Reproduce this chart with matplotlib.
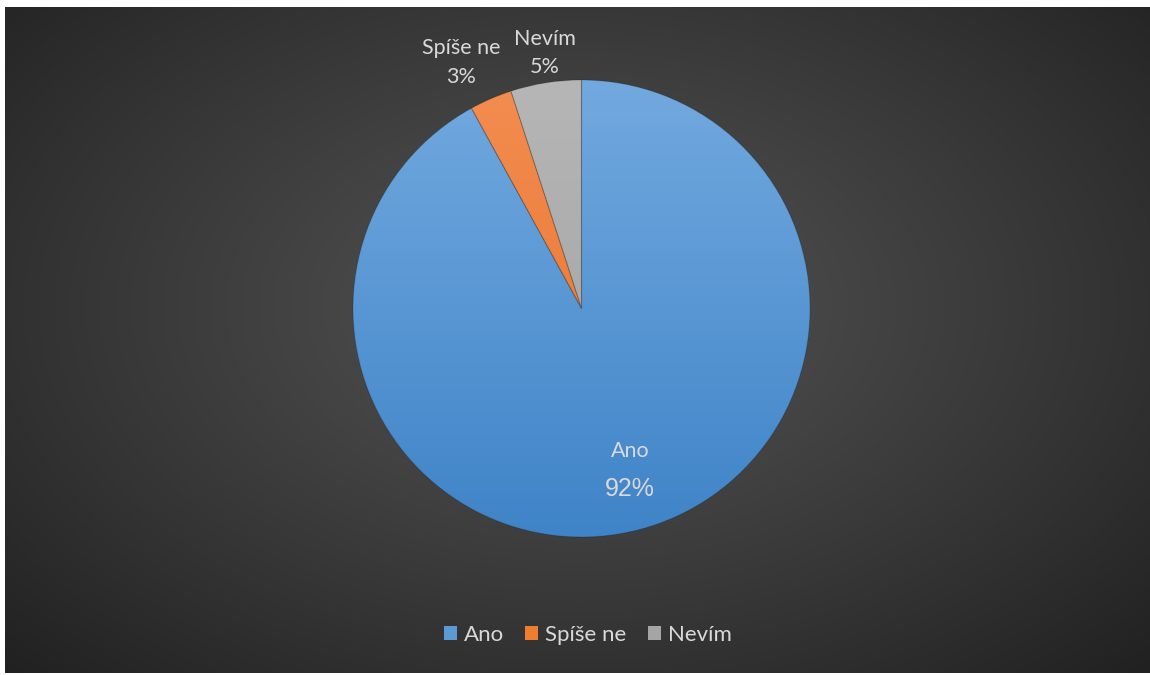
import matplotlib

matplotlib.use("Agg")
import matplotlib.pyplot as plt  # noqa: E402
import numpy as np  # noqa: E402
from matplotlib.colors import LinearSegmentedColormap  # noqa: E402
from matplotlib.patches import Patch  # noqa: E402

labels = ["Ano", "Spíše ne", "Nevím"]
shares = [92, 3, 5]
top_colors = ["#72a9df", "#f38d50", "#b6b6b6"]
bottom_colors = ["#3f84c8", "#e5702a", "#9f9f9f"]
legend_colors = ["#5b9bd5", "#ed7d31", "#a5a5a5"]

W, H = 1150, 675
TEXT = "#d9d9d9"
plt.rcParams["font.family"] = ["Lato", "DejaVu Sans"]

fig = plt.figure(figsize=(W / 100, H / 100), dpi=100, facecolor="white")
ax = fig.add_axes([0, 0, 1, 1])

# dark radial background, lighter in the middle
gx, gy = np.meshgrid(np.linspace(0, 1, 460), np.linspace(0, 1, 270))
r = np.sqrt(((gx - 0.5) / 0.5) ** 2 + ((gy - 0.45) / 0.55) ** 2) / np.sqrt(2)
r = np.clip(r, 0, 1) ** 1.1
light, dark = np.array([0x53, 0x53, 0x53]) / 255, np.array([0x21, 0x21, 0x21]) / 255
bg = light[None, None, :] * (1 - r[..., None]) + dark[None, None, :] * r[..., None]
ax.imshow(bg, extent=(5, W, 2, H - 7), origin="upper", zorder=0, aspect="auto")

cx, cy, R = 581.5, H - 308.5, 228.5
wedges, _ = ax.pie(shares, startangle=90, counterclock=False, center=(cx, cy),
                   radius=R, frame=True,
                   wedgeprops={"facecolor": "none", "edgecolor": (0, 0, 0, 0.15),
                               "linewidth": 0.8, "zorder": 3})

# vertical gradient fill clipped to each slice
ramp = np.linspace(0, 1, 256)[:, None]
for wedge, c_top, c_bot in zip(wedges, top_colors, bottom_colors):
    cmap = LinearSegmentedColormap.from_list("slice", [c_top, c_bot])
    im = ax.imshow(ramp, cmap=cmap, extent=(cx - R, cx + R, cy - R, cy + R),
                   origin="upper", aspect="auto", zorder=2)
    im.set_clip_path(wedge)

# data labels
ax.text(461, H - 48, labels[1], color=TEXT, fontsize=15.5, ha="center", va="center")
ax.text(461, H - 77, f"{shares[1]}%", color=TEXT, fontsize=15.5, ha="center", va="center")
ax.text(545, H - 39, labels[2], color=TEXT, fontsize=15.5, ha="center", va="center")
ax.text(545, H - 67, f"{shares[2]}%", color=TEXT, fontsize=15.5, ha="center", va="center")
ax.text(630, H - 451, labels[0], color=TEXT, fontsize=15.5, ha="center", va="center",
        zorder=4)
ax.text(630, H - 489, f"{shares[0]}%", color=TEXT, fontsize=18, ha="center", va="center",
        family="Liberation Sans", zorder=4)

handles = [Patch(facecolor=c, edgecolor="none") for c in legend_colors]
fig.legend(handles, labels, loc="center", bbox_to_anchor=(0.511, 1 - 635 / H), ncol=3,
           frameon=False, fontsize=16, labelcolor=TEXT, handlelength=0.6,
           handleheight=0.6, handletextpad=0.3, columnspacing=0.95)

ax.set_xlim(0, W)
ax.set_ylim(0, H)
ax.set_aspect("auto")
ax.axis("off")

fig.savefig("out.png", dpi=100, facecolor="white")
